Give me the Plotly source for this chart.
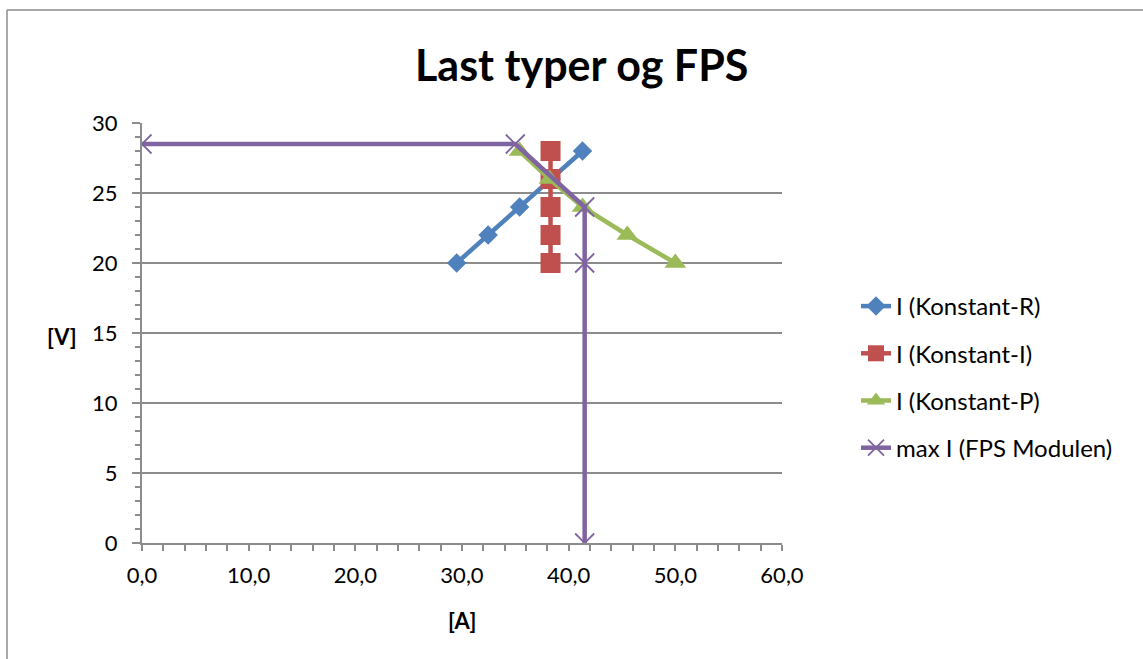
import plotly.graph_objects as go

# Current [A] and voltage [V] for each load type
voltage = [20, 22, 24, 26, 28]
i_const_r = [29.5, 32.45, 35.4, 38.35, 41.3]
i_const_i = [38.3, 38.3, 38.3, 38.3, 38.3]
i_const_p = [50.0, 45.5, 41.3, 38.2, 35.4]

# Maximum current limit of the FPS module
fps_current = [0.0, 35.0, 41.5, 41.5, 41.5]
fps_voltage = [28.5, 28.5, 24, 20, 0]

names = ["I (Konstant-R)", "I (Konstant-I)", "I (Konstant-P)", "max I (FPS Modulen)"]
colors = ["#4F81BD", "#C0504D", "#9BBB59", "#8064A2"]

W, H = 1143, 659
FONT = "Lato"
GRID = "#8C8C8C"

fig = go.Figure()
series = [
    (i_const_r, voltage, dict(symbol="diamond", size=15)),
    (i_const_i, voltage, dict(symbol="square", size=20)),
    (i_const_p, voltage, dict(symbol="triangle-up", size=19)),
    (fps_current, fps_voltage, dict(symbol="x-thin", size=19,
                                    line=dict(width=1.8, color=colors[3]))),
]
for k, (xs, ys, mk) in enumerate(series):
    mk = dict(mk)
    mk.setdefault("color", colors[k])
    fig.add_trace(go.Scatter(
        x=xs, y=ys, mode="lines+markers", name=names[k],
        line=dict(color=colors[k], width=4.5),
        marker=mk, legendgroup=str(k),
    ))

x0, x1 = 142 / W, 782 / W
y0, y1 = 1 - 543 / H, 1 - 123 / H

fig.update_layout(
    width=W, height=H,
    margin=dict(l=0, r=0, t=0, b=0, autoexpand=False),
    paper_bgcolor="white", plot_bgcolor="white",
    separators=", ",
    font=dict(family=FONT, size=22, color="black"),
    xaxis=dict(
        domain=[x0, x1], range=[0, 60], dtick=10, tickformat=".1f",
        automargin=False,
        showgrid=False, zeroline=False,
        showline=True, linecolor=GRID, linewidth=2,
        ticks="outside", ticklen=6, tickwidth=2, tickcolor=GRID,
        minor=dict(dtick=2, ticks="outside", ticklen=6, tickwidth=2, tickcolor=GRID),
        tickfont=dict(size=22), ticklabelstandoff=6,
    ),
    yaxis=dict(
        domain=[y0, y1], range=[0, 30], dtick=5,
        automargin=False,
        showgrid=True, gridcolor=GRID, gridwidth=2, zeroline=False,
        showline=True, linecolor=GRID, linewidth=2,
        ticks="outside", ticklen=8, tickwidth=2, tickcolor=GRID,
        minor=dict(dtick=1, ticks="outside", ticklen=5, tickwidth=1.5, tickcolor=GRID),
        tickfont=dict(size=22), ticklabelstandoff=10,
    ),
    legend=dict(
        x=856 / W, y=1 - 284 / H, xanchor="left", yanchor="top",
        font=dict(size=24), tracegroupgap=13, bgcolor="rgba(0,0,0,0)",
    ),
    showlegend=True,
)

# Title and axis titles
fig.add_annotation(text="<b>Last typer og FPS</b>", x=581 / W, y=1 - 64 / H,
                   xref="paper", yref="paper", showarrow=False,
                   xanchor="center", yanchor="middle",
                   font=dict(size=43, family=FONT))
fig.add_annotation(text="<b>[V]</b>", x=62 / W, y=1 - 336 / H,
                   xref="paper", yref="paper", showarrow=False,
                   xanchor="center", yanchor="middle",
                   font=dict(size=22, family=FONT))
fig.add_annotation(text="<b>[A]</b>", x=462 / W, y=1 - 620 / H,
                   xref="paper", yref="paper", showarrow=False,
                   xanchor="center", yanchor="middle",
                   font=dict(size=22, family=FONT))

# Chart frame
fig.add_shape(type="line", xref="paper", yref="paper",
              x0=7 / W, x1=1.0, y0=1 - 10 / H, y1=1 - 10 / H,
              line=dict(color="#8C8C8C", width=1.5))
fig.add_shape(type="line", xref="paper", yref="paper",
              x0=7 / W, x1=7 / W, y0=0, y1=1 - 10 / H,
              line=dict(color="#8C8C8C", width=1.5))

fig.write_html(
    "out.html",
    post_script="document.body.style.margin='0';document.body.style.overflow='hidden';",
)
